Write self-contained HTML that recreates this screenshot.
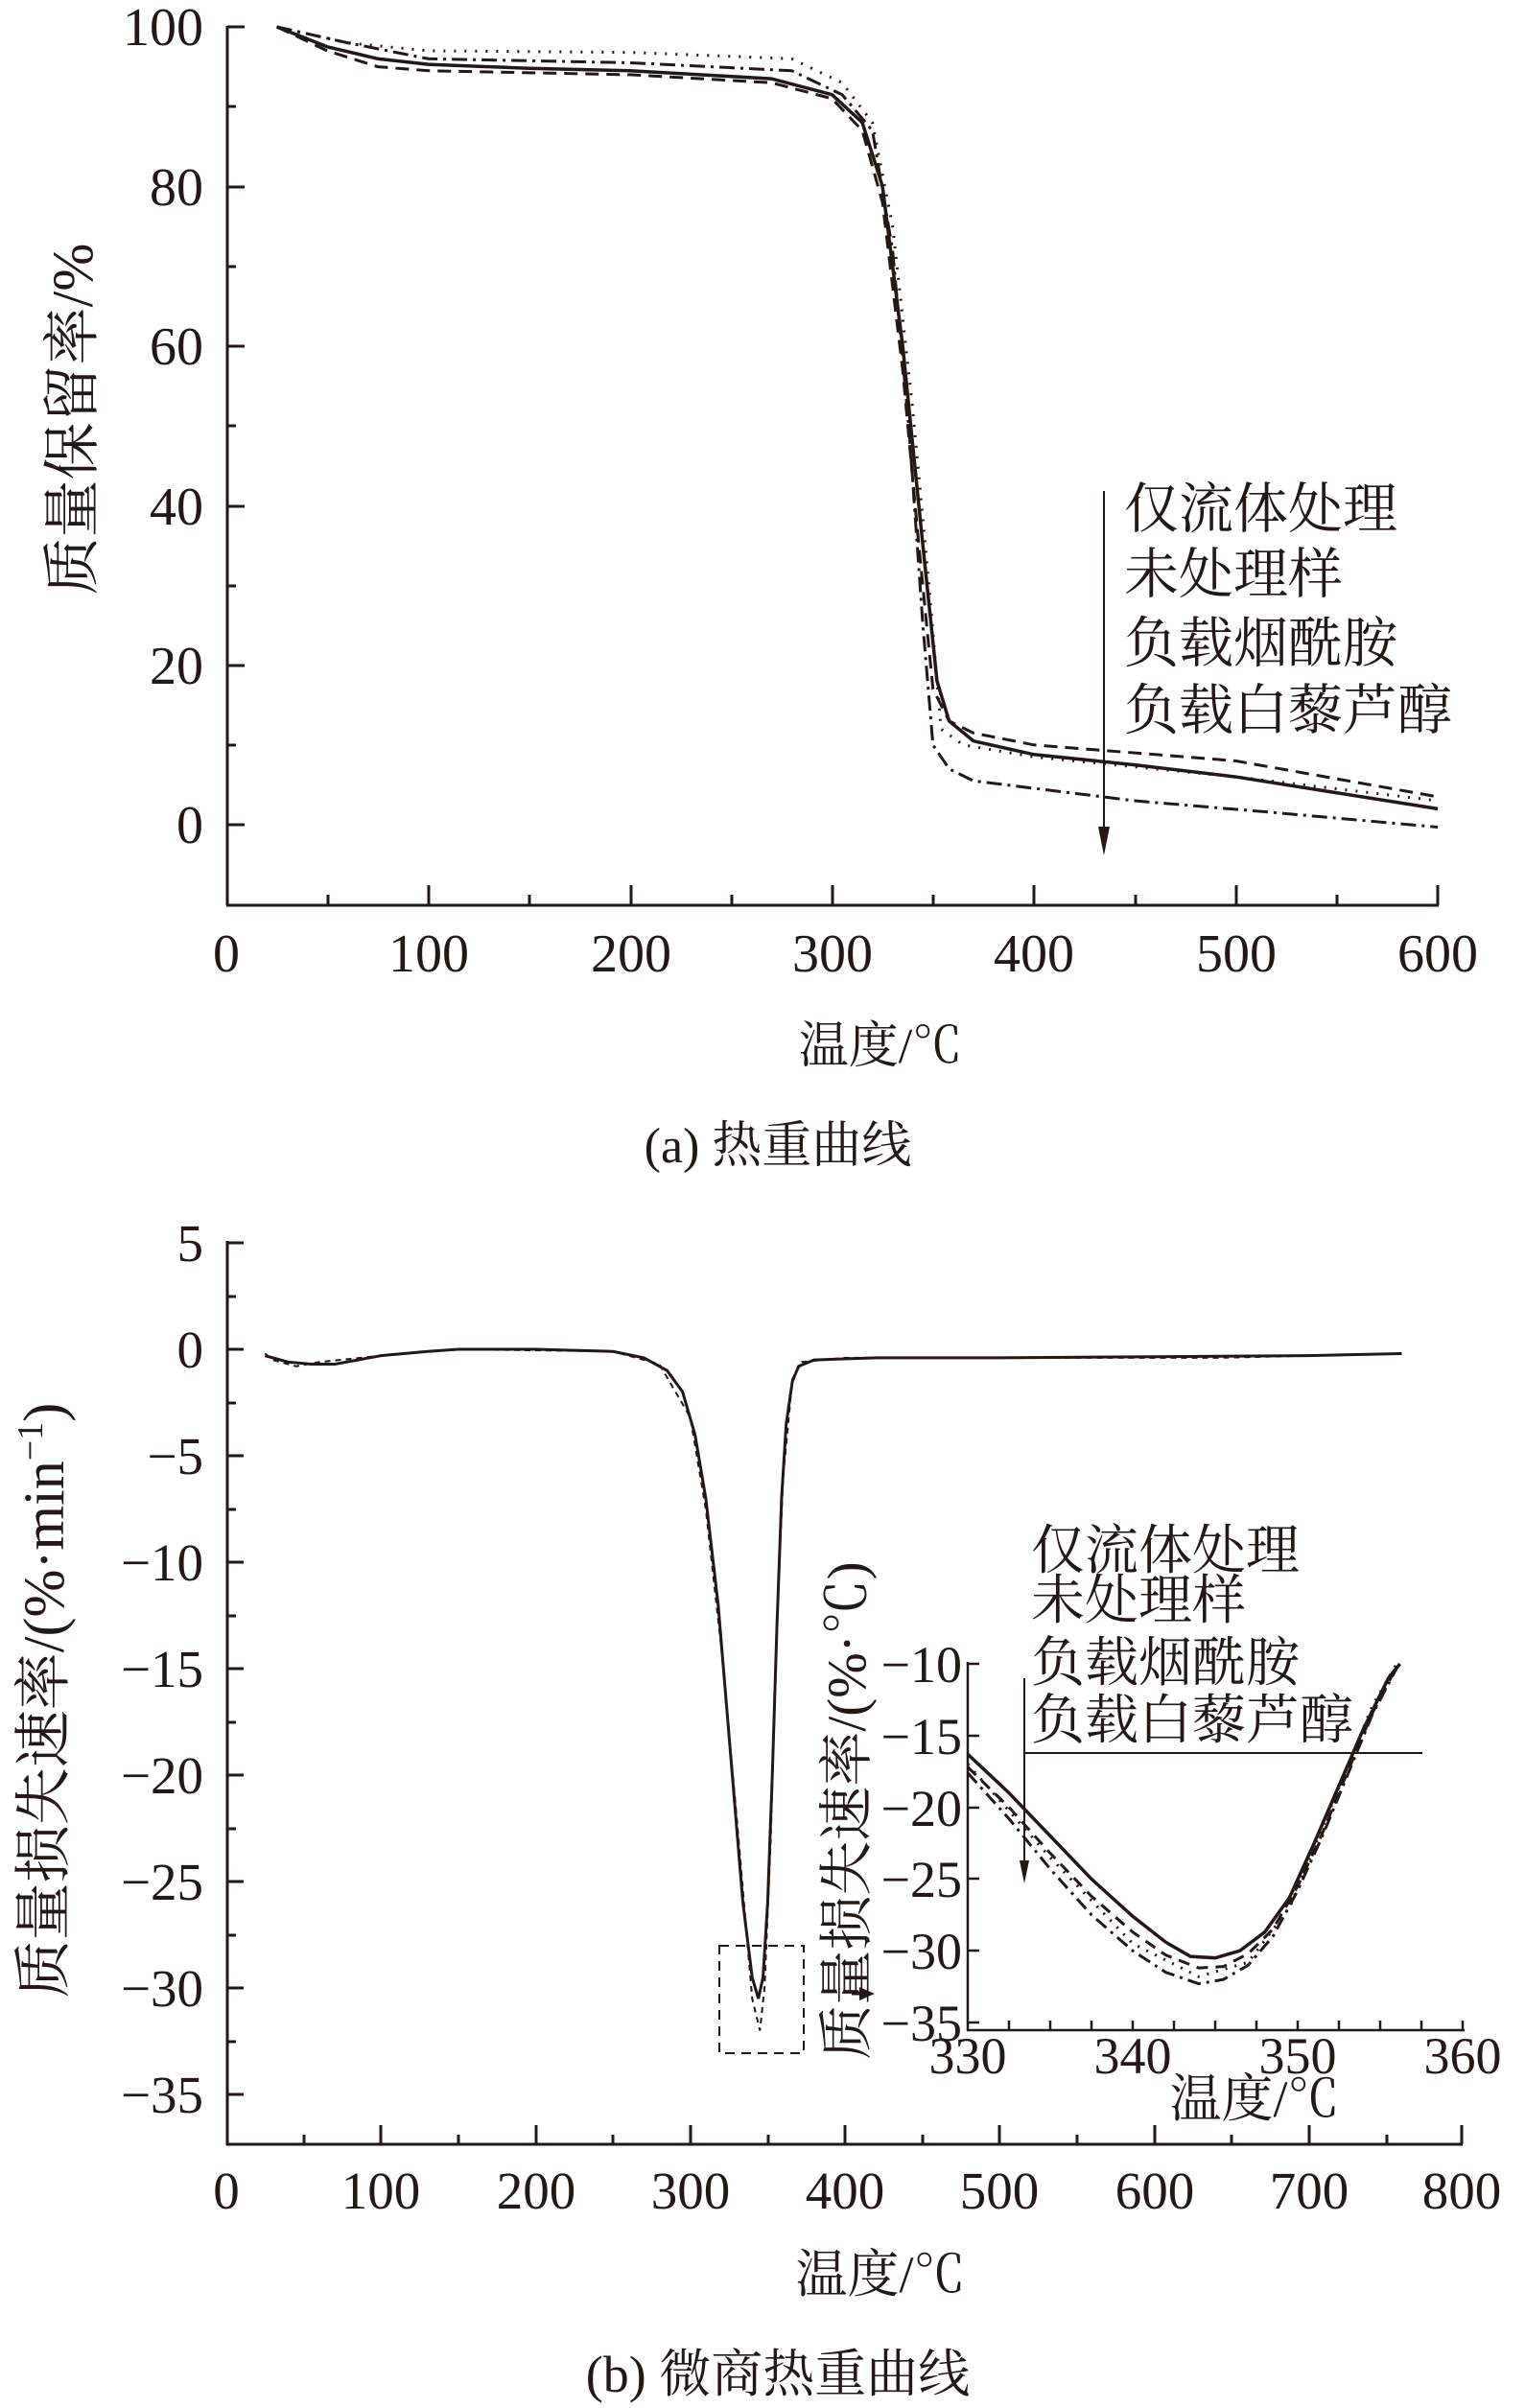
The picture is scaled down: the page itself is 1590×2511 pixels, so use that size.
<!DOCTYPE html>
<html><head><meta charset="utf-8"><style>
html,body{margin:0;padding:0;background:#fff;}
svg{display:block;}
text{font-family:"Liberation Serif","Noto Serif CJK SC",serif;fill:#231815;}
</style></head><body>
<svg width="1590" height="2511" viewBox="0 0 1590 2511" xmlns="http://www.w3.org/2000/svg">
<g stroke="#231815" fill="none" stroke-width="3">
<line x1="237" y1="27" x2="237" y2="944"/>
<line x1="236" y1="944" x2="1500" y2="944"/>
<path d="M237 28h18M237 195h18M237 361h18M237 528h18M237 694h18M237 860h18M237 111h9M237 278h9M237 444h9M237 611h9M237 777h9"/>
<path d="M447 944v-21M658 944v-21M868 944v-21M1078 944v-21M1289 944v-21M1499 944v-21M342 944v-11M552 944v-11M763 944v-11M973 944v-11M1184 944v-11M1394 944v-11"/>
</g>
<g font-size="56" text-anchor="end">
<text x="212" y="47">100</text><text x="212" y="214">80</text><text x="212" y="380">60</text><text x="212" y="547">40</text><text x="212" y="713">20</text><text x="212" y="879">0</text>
</g>
<g font-size="56" text-anchor="middle">
<text x="236" y="1013">0</text><text x="447" y="1013">100</text><text x="658" y="1013">200</text><text x="868" y="1013">300</text><text x="1078" y="1013">400</text><text x="1289" y="1013">500</text><text x="1499" y="1013">600</text>
</g>
<text x="918" y="1108" font-size="52" text-anchor="middle">温度/℃</text>
<text x="811" y="1212" font-size="52" text-anchor="middle">(a)  热重曲线</text>
<text transform="translate(96,437) rotate(-90)" font-size="60" text-anchor="middle">质量保留率/%</text>

<g transform="matrix(2.105 0 0 -8.32 236 860)" fill="none" stroke="#231815">
<polyline vector-effect="non-scaling-stroke" stroke-width="3.5" points="25,100 50,97.5 75,96 100,95.3 150,94.8 200,94.5 270,93.5 300,91.5 315,88 325,80 335,60 345,35 352,18 358,13 370,10.5 400,8.8 450,7.5 500,6 550,4 600,2"/>
<polyline vector-effect="non-scaling-stroke" stroke-width="3" stroke-dasharray="14,8" points="25,100 50,97 75,95 100,94.5 200,94 270,93 300,91 315,87 325,78 335,57 343,35 350,17 358,13 370,11.5 400,10 500,8 600,3.5"/>
<polyline vector-effect="non-scaling-stroke" stroke-width="3" stroke-dasharray="2,9" points="25,100 60,98 100,97 200,96.8 280,96 305,93 320,88 330,75 340,52 348,30 354,12 365,10 400,8.5 500,6 600,3"/>
<polyline vector-effect="non-scaling-stroke" stroke-width="3" stroke-dasharray="16,6,3,6" points="25,100 60,98 100,96 200,95.5 280,94.5 305,91.5 320,87 330,72 338,50 345,25 350,10 358,7 370,5.5 450,3 520,1.5 600,-0.3"/>
</g>
<line x1="1151" y1="512" x2="1151" y2="870" stroke="#231815" stroke-width="2"/>
<path d="M1145 862 L1157 862 L1151 892 Z" fill="#231815"/>
<g font-size="57">
<text x="1172" y="550">仅流体处理</text>
<text x="1172" y="618">未处理样</text>
<text x="1172" y="690">负载烟酰胺</text>
<text x="1172" y="760">负载白藜芦醇</text>
</g>

<!-- Bottom chart -->
<g stroke="#231815" fill="none" stroke-width="3">
<line x1="237" y1="1294" x2="237" y2="2237"/>
<line x1="236" y1="2236" x2="1525" y2="2236"/>
<path d="M237 1296h17M237 1407h17M237 1518h17M237 1629h17M237 1740h17M237 1851h17M237 1962h17M237 2073h17M237 2184h17M237 1352h9M237 1463h9M237 1574h9M237 1685h9M237 1796h9M237 1907h9M237 2018h9M237 2129h9"/>
<path d="M397 2236v-20M559 2236v-20M720 2236v-20M881 2236v-20M1042 2236v-20M1204 2236v-20M1365 2236v-20M1524 2236v-20M317 2236v-10M478 2236v-10M639 2236v-10M801 2236v-10M962 2236v-10M1123 2236v-10M1284 2236v-10M1446 2236v-10"/>
</g>
<g font-size="55" text-anchor="end">
<text x="212" y="1315">5</text><text x="212" y="1426">0</text><text x="212" y="1537">−5</text><text x="212" y="1648">−10</text><text x="212" y="1759">−15</text><text x="212" y="1870">−20</text><text x="212" y="1981">−25</text><text x="212" y="2092">−30</text><text x="212" y="2203">−35</text>
</g>
<g font-size="55" text-anchor="middle">
<text x="236" y="2303">0</text><text x="397" y="2303">100</text><text x="559" y="2303">200</text><text x="720" y="2303">300</text><text x="881" y="2303">400</text><text x="1042" y="2303">500</text><text x="1204" y="2303">600</text><text x="1365" y="2303">700</text><text x="1524" y="2303">800</text>
</g>
<text x="918" y="2390" font-size="54" text-anchor="middle">温度/℃</text>
<text x="811" y="2494" font-size="54" text-anchor="middle">(b)  微商热重曲线</text>
<text transform="translate(66,1773) rotate(-90)" font-size="60" text-anchor="middle">质量损失速率/(%·min<tspan dy="-22" font-size="38">−1</tspan><tspan dy="22">)</tspan></text>

<g transform="matrix(1.6125 0 0 -22.2 236 1407)" fill="none" stroke="#231815">
<polyline vector-effect="non-scaling-stroke" stroke-width="3" points="25,-0.3 30,-0.4 40,-0.6 55,-0.7 70,-0.7 85,-0.5 100,-0.3 130,-0.1 150,0 200,0 250,-0.1 270,-0.4 285,-1 295,-2 303,-4 310,-7 318,-12 326,-19 334,-26 340,-29.5 344,-30.5 347,-29.5 350,-26 353,-20 356,-13 359,-7 362,-3.5 366,-1.5 370,-0.8 380,-0.5 420,-0.4 500,-0.4 600,-0.35 700,-0.3 760,-0.2"/>
<polyline vector-effect="non-scaling-stroke" stroke-width="2" stroke-dasharray="6,5" points="25,-0.2 30,-0.5 45,-0.8 60,-0.6 100,-0.3 150,0 250,-0.1 280,-0.7 300,-3.2 310,-7.5 320,-14 330,-22 340,-30.5 345,-32 348,-30 352,-23 356,-13 360,-6 366,-1.4 372,-0.6 400,-0.4 640,-0.4 760,-0.2"/>
</g>
<rect x="750" y="2029" width="88" height="112" fill="none" stroke="#231815" stroke-width="2" stroke-dasharray="10,7"/>
<path d="M888 2079 h10" stroke="#231815" stroke-width="3"/><path d="M896 2072 L912 2079 L896 2086 Z" fill="#231815"/>

<!-- Inset -->
<g stroke="#231815" fill="none" stroke-width="2.5">
<line x1="1009" y1="1733" x2="1009" y2="2118"/>
<line x1="1008" y1="2117" x2="1527" y2="2117"/>
<path d="M1009 1735h12M1009 1810h12M1009 1885h12M1009 1959h12M1009 2034h12M1009 2109h12"/>
<path d="M1052 2117v-10M1095 2117v-10M1138 2117v-10M1181 2117v-10M1224 2117v-10M1267 2117v-10M1310 2117v-10M1353 2117v-10M1396 2117v-10M1439 2117v-10M1482 2117v-10M1525 2117v-10"/>
</g>
<g font-size="54" text-anchor="end">
<text x="1003" y="1754">−10</text><text x="1003" y="1829">−15</text><text x="1003" y="1904">−20</text><text x="1003" y="1978">−25</text><text x="1003" y="2053">−30</text><text x="1003" y="2128">−35</text>
</g>
<g font-size="54" text-anchor="middle">
<text x="1009" y="2162">330</text><text x="1181" y="2162">340</text><text x="1353" y="2162">350</text><text x="1525" y="2162">360</text>
</g>
<text x="1308" y="2207" font-size="54" text-anchor="middle">温度/℃</text>
<text transform="translate(902,1888) rotate(-90)" font-size="57" text-anchor="middle">质量损失速率/(%·℃)</text>
<g transform="matrix(17.2 0 0 -14.96 -4667 1585.4)" fill="none" stroke="#231815">
<polyline vector-effect="non-scaling-stroke" stroke-width="3.5" points="330,-16.3 332.5,-19 335,-22 337.5,-25 340,-27.6 342,-29.4 343.5,-30.4 345,-30.5 346.5,-30 348,-28.7 349.5,-26.3 351,-22.5 352.5,-18.5 354,-14.5 355.5,-11 356.2,-10"/>
<polyline vector-effect="non-scaling-stroke" stroke-width="3" stroke-dasharray="12,8" points="330,-17.2 332.5,-20 335,-23.2 337.5,-26.2 340,-28.7 342,-30.3 344,-31.2 345.5,-31.1 347,-30.2 348.5,-28.5 350,-25.5 351.5,-21.8 353,-17.6 354.5,-13.5 356,-10.2"/>
<polyline vector-effect="non-scaling-stroke" stroke-width="3" stroke-dasharray="14,6,3,6" points="330,-17.6 332.5,-20.8 335,-24.3 337.5,-27.5 340,-30 342,-31.5 344,-32.3 345.5,-32 347,-31 348.5,-29 350,-25.8 351.5,-22 353,-17.8 354.5,-13.6 356,-10.3"/>
<polyline vector-effect="non-scaling-stroke" stroke-width="3" stroke-dasharray="2,8" points="330,-17 335,-23.5 340,-29.5 344,-31.8 347,-30.8 349.5,-27 352,-20 354.5,-13 356,-10"/>
</g>
<line x1="1068" y1="1828" x2="1483" y2="1828" stroke="#231815" stroke-width="2"/>
<line x1="1068" y1="1750" x2="1068" y2="1945" stroke="#231815" stroke-width="2"/>
<path d="M1063 1940 L1073 1940 L1068 1964 Z" fill="#231815"/>
<g font-size="56">
<text x="1075" y="1636">仅流体处理</text>
<text x="1075" y="1688">未处理样</text>
<text x="1075" y="1753">负载烟酰胺</text>
<text x="1075" y="1813">负载白藜芦醇</text>
</g>
</svg>
</body></html>
